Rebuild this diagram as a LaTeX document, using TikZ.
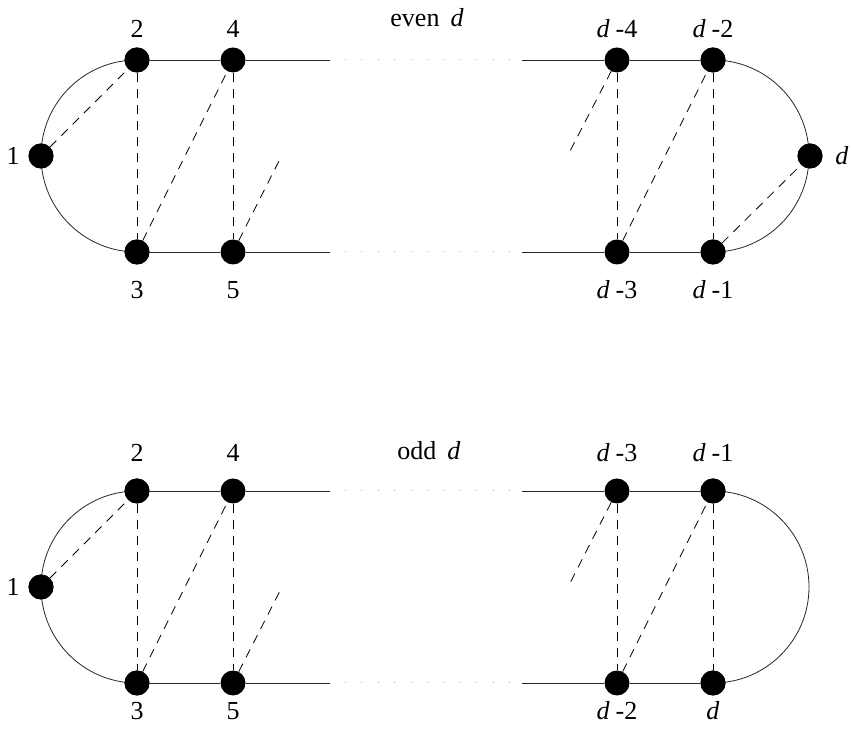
\documentclass[tikz,border=0pt]{standalone}
\usepackage{fontspec}
\setmainfont{Liberation Serif}
\begin{document}
\begin{tikzpicture}[x=1pt,y=1pt,
  vtx/.style={circle,fill=black,minimum size=25pt,inner sep=0pt},
  lbl/.style={inner sep=0pt,font=\fontsize{26}{30}\selectfont},
  solidedge/.style={line width=0.8pt,black!85},
  dashedge/.style={line width=0.8pt,dash pattern=on 9pt off 7pt},
  dotline/.style={line width=1pt,black!30,dash pattern=on 1pt off 15.4pt}]
\useasboundingbox (0,0) rectangle (852,739);
\newcommand{\dd}{\textit{d}\kern6pt}
% ================= top diagram (even d) =================
\node[lbl] (t0) at (427,721) {even\kern11pt\textit{d}};
\node[vtx] (a1) at (41,583) {};
\node[vtx] (a2) at (137,679) {};
\node[vtx] (a4) at (233,679) {};
\node[vtx] (a3) at (137,487) {};
\node[vtx] (a5) at (233,487) {};
\node[vtx] (aA) at (617,679) {};
\node[vtx] (aB) at (713,679) {};
\node[vtx] (aC) at (617,487) {};
\node[vtx] (aD) at (713,487) {};
\node[vtx] (aE) at (810,583) {};
\coordinate (aTL) at (330,679);
\coordinate (aBL) at (330,487);
\coordinate (aTR) at (522,679);
\coordinate (aBR) at (522,487);
\coordinate (aP1) at (282,584);
\coordinate (aP2) at (568,584);
\coordinate (aD1) at (345,679);
\coordinate (aD2) at (510,679);
\coordinate (aD3) at (345,487);
\coordinate (aD4) at (510,487);
\node[lbl] (la1) at (13,583) {1};
\node[lbl] (la2) at (137,710) {2};
\node[lbl] (la4) at (233,710) {4};
\node[lbl] (la3) at (137,449) {3};
\node[lbl] (la5) at (233,449) {5};
\node[lbl] (laA) at (617,710) {\dd-4};
\node[lbl] (laB) at (713,710) {\dd-2};
\node[lbl] (laC) at (617,449) {\dd-3};
\node[lbl] (laD) at (713,449) {\dd-1};
\node[lbl] (laE) at (842,583) {\textit{d}};
\draw[solidedge] (a2.center) arc[start angle=90,end angle=270,radius=96pt];
\draw[solidedge] (aB.center) arc[start angle=90,end angle=-90,radius=96pt];
\draw[solidedge] (a2) -- (a4) -- (aTL);
\draw[solidedge] (a3) -- (a5) -- (aBL);
\draw[solidedge] (aTR) -- (aA) -- (aB);
\draw[solidedge] (aBR) -- (aC) -- (aD);
\draw[dotline] (aD1) -- (aD2);
\draw[dotline] (aD3) -- (aD4);
\draw[dashedge] (a1) -- (a2);
\draw[dashedge] (a2) -- (a3);
\draw[dashedge] (a3) -- (a4);
\draw[dashedge] (a4) -- (a5);
\draw[dashedge] (a5) -- (aP1);
\draw[dashedge] (aA) -- (aP2);
\draw[dashedge] (aA) -- (aC);
\draw[dashedge] (aC) -- (aB);
\draw[dashedge] (aB) -- (aD);
\draw[dashedge] (aD) -- (aE);
\node[vtx] at (a1) {};
\node[vtx] at (a2) {};
\node[vtx] at (a3) {};
\node[vtx] at (aB) {};
\node[vtx] at (aD) {};
\node[vtx] at (aE) {};
% ================= bottom diagram (odd d) =================
\node[lbl] (b0) at (429,288) {odd\kern11pt\textit{d}};
\node[vtx] (b1) at (41,152) {};
\node[vtx] (b2) at (137,248) {};
\node[vtx] (b4) at (233,248) {};
\node[vtx] (b3) at (137,56) {};
\node[vtx] (b5) at (233,56) {};
\node[vtx] (bA) at (617,248) {};
\node[vtx] (bB) at (713,248) {};
\node[vtx] (bC) at (617,56) {};
\node[vtx] (bD) at (713,56) {};
\coordinate (bTL) at (330,248);
\coordinate (bBL) at (330,56);
\coordinate (bTR) at (522,248);
\coordinate (bBR) at (522,56);
\coordinate (bP1) at (282,152);
\coordinate (bP2) at (568,152);
\coordinate (bD1) at (345,248);
\coordinate (bD2) at (510,248);
\coordinate (bD3) at (345,56);
\coordinate (bD4) at (510,56);
\node[lbl] (lb1) at (13,152) {1};
\node[lbl] (lb2) at (137,286) {2};
\node[lbl] (lb4) at (233,286) {4};
\node[lbl] (lb3) at (137,28) {3};
\node[lbl] (lb5) at (233,28) {5};
\node[lbl] (lbA) at (617,286) {\dd-3};
\node[lbl] (lbB) at (713,286) {\dd-1};
\node[lbl] (lbC) at (617,28) {\dd-2};
\node[lbl] (lbD) at (713,28) {\textit{d}};
\draw[solidedge] (b2.center) arc[start angle=90,end angle=270,radius=96pt];
\draw[solidedge] (bB.center) arc[start angle=90,end angle=-90,radius=96pt];
\draw[solidedge] (b2) -- (b4) -- (bTL);
\draw[solidedge] (b3) -- (b5) -- (bBL);
\draw[solidedge] (bTR) -- (bA) -- (bB);
\draw[solidedge] (bBR) -- (bC) -- (bD);
\draw[dotline] (bD1) -- (bD2);
\draw[dotline] (bD3) -- (bD4);
\draw[dashedge] (b1) -- (b2);
\draw[dashedge] (b2) -- (b3);
\draw[dashedge] (b3) -- (b4);
\draw[dashedge] (b4) -- (b5);
\draw[dashedge] (b5) -- (bP1);
\draw[dashedge] (bA) -- (bP2);
\draw[dashedge] (bA) -- (bC);
\draw[dashedge] (bC) -- (bB);
\draw[dashedge] (bB) -- (bD);
\node[vtx] at (b1) {};
\node[vtx] at (b2) {};
\node[vtx] at (b3) {};
\node[vtx] at (bB) {};
\node[vtx] at (bD) {};
\end{tikzpicture}
\end{document}
